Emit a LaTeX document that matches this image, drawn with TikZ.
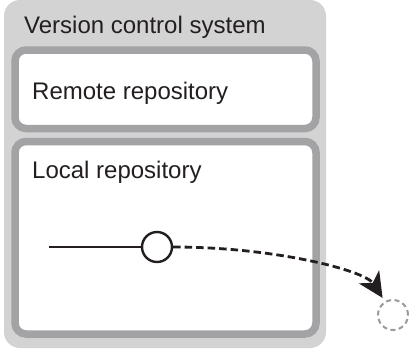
\documentclass[tikz,border=0pt]{standalone}
\usepackage{fontspec}
\setmainfont{Liberation Sans}
\usetikzlibrary{arrows.meta}
\definecolor{vcsfill}{HTML}{D3D3D3}
\definecolor{repoedge}{HTML}{A3A3A5}
\definecolor{inkblack}{HTML}{231F20}
\definecolor{ghostgray}{HTML}{9A9A9A}

\begin{document}
\begin{tikzpicture}[x=1pt, y=-1pt,
  system/.style={fill=vcsfill, rounded corners=16pt, minimum width=322pt, minimum height=348pt, inner sep=0pt},
  repo/.style={draw=repoedge, fill=white, line width=7.5pt, rounded corners=11pt, minimum width=301pt, inner sep=0pt},
  caption/.style={anchor=base west, inner sep=0pt, text=inkblack, font=\fontsize{24}{28}\selectfont},
  commit/.style={circle, draw=inkblack, fill=white, line width=2.4pt, minimum size=30pt, inner sep=0pt},
  ghost/.style={circle, draw=ghostgray, line width=2pt, dash pattern=on 5pt off 3.5pt, minimum size=30pt, inner sep=0pt},
  arr/.style={-{Stealth[length=25pt, width=24pt, inset=7pt]}, line width=2.8pt, dash pattern=on 7.5pt off 4pt, inkblack},
]
  \useasboundingbox (0,0) rectangle (409,349);

  \node[system] (vcs) at (165,174) {};
  \node[caption] (vcslabel) at (24,33) {Version control system};

  \node[repo, minimum height=78.5pt] (remote) at (165.5,89.25) {};
  \node[caption] (remotelabel) at (32,99) {Remote repository};

  \node[repo, minimum height=192.5pt] (local) at (165.5,237.75) {};
  \node[caption] (locallabel) at (32,178) {Local repository};

  \coordinate (history) at (49,247);
  \node[commit] (head) at (157,247) {};
  \node[ghost] (pushed) at (393,315) {};

  \draw[line width=2.2pt, inkblack] (history) -- (head);
  \draw[arr, shorten >=4pt] (head) .. controls +(117,0) and +(-20,-31) .. (pushed.121);
\end{tikzpicture}
\end{document}
